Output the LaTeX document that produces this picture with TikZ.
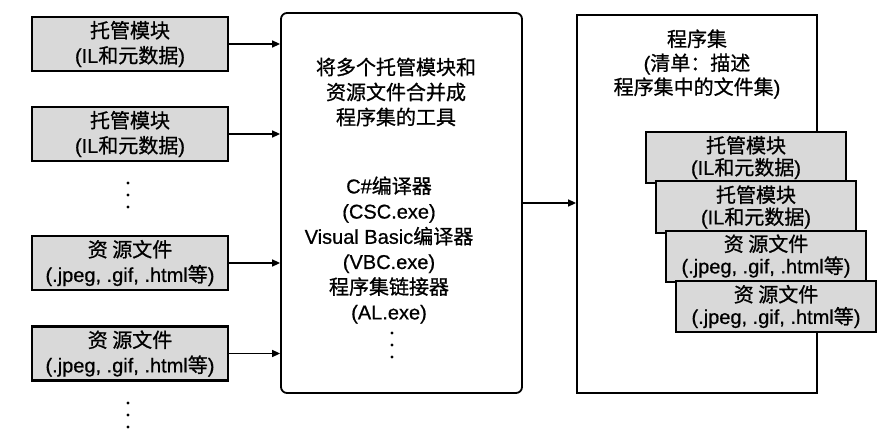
\documentclass[tikz,border=0pt]{standalone}
\usepackage{fontspec}
\setmainfont{Liberation Sans}[FakeBold=0.7]
\newfontfamily\cjk{Noto Sans CJK SC}[FakeBold=0.9]
\usetikzlibrary{arrows.meta}
\newcommand{\zh}[1]{{\cjk #1}}
\definecolor{boxgray}{HTML}{D9D9D9}
\begin{document}
\begin{tikzpicture}[x=1pt,y=-1pt,
  font=\fontsize{20}{25}\selectfont,
  gbox/.style={draw, line width=2.2pt, fill=boxgray, minimum width=196pt, minimum height=54pt, align=center, inner sep=0pt},
  sbox/.style={draw, line width=2pt, fill=boxgray, minimum width=200pt, minimum height=51pt, align=center, inner sep=0pt, font=\fontsize{20}{22}\selectfont},
  bigbox/.style={draw, line width=1.8pt, inner sep=0pt},
  txt/.style={align=center, inner sep=0pt},
  arr/.style={line width=1.5pt, -{Triangle[length=8pt,width=7pt]}},
  dotf/.style={fill=black}
]
\useasboundingbox[fill=white] (0,0) rectangle (890,446);

% left input boxes
\node[gbox] (m1) at (130,44) {\zh{托管模块}\\(IL\zh{和元数据})};
\node[gbox] (m2) at (130,134) {\zh{托管模块}\\(IL\zh{和元数据})};
\node[gbox] (r1) at (130,263) {\zh{资 源文件}\\(.jpeg, .gif, .html\zh{等})};
\node[gbox] (r2) at (130,353.5) {\zh{资 源文件}\\(.jpeg, .gif, .html\zh{等})};

\foreach \y in {183,195,207,403,415,427} \fill[dotf] (128,\y) circle (1.7pt);

% middle tool box
\node[bigbox, rounded corners=6pt, minimum width=241pt, minimum height=380pt] (mid) at (401.5,203) {};
\node[txt] (midtop) at (396,92) {\zh{将多个托管模块和}\\\zh{资源文件合并成}\\\zh{程序集的工具}};
\node[txt, font=\fontsize{20}{25.2}\selectfont] (midlist) at (389,250) {C\#\zh{编译器}\\(CSC.exe)\\Visual Basic\zh{编译器}\\(VBC.exe)\\\zh{程序集链接器}\\(AL.exe)};
\foreach \y in {333,345,357} \fill[dotf] (392,\y) circle (1.7pt);

% right assembly box
\node[bigbox, minimum width=240pt, minimum height=378pt] (asm) at (697,204) {};
\node[txt, font=\fontsize{20}{24}\selectfont] (asmtxt) at (697,64) {\zh{程序集}\\(\zh{清单：描述}\\\zh{程序集中的文件集})};

\node[sbox] (s1) at (746,157.5) {\zh{托管模块}\\(IL\zh{和元数据})};
\node[sbox] (s2) at (756,207) {\zh{托管模块}\\(IL\zh{和元数据})};
\node[sbox] (s3) at (766,256) {\zh{资 源文件}\\(.jpeg, .gif, .html\zh{等})};
\node[sbox] (s4) at (776,306.5) {\zh{资 源文件}\\(.jpeg, .gif, .html\zh{等})};

% arrows
\foreach \n in {m1,m2,r1,r2} \draw[arr] (\n.east) -- (\n.east -| mid.west);
\draw[arr] (mid.east) -- (mid.east -| asm.west);
\end{tikzpicture}
\end{document}
